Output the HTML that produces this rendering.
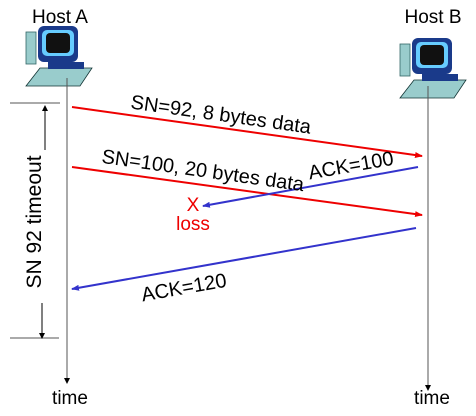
<!DOCTYPE html>
<html><head><style>body{margin:0;background:#fff}svg{display:block}text{font-family:"Liberation Sans",Arial,sans-serif}</style></head>
<body>
<svg width="476" height="416" viewBox="0 0 476 416" xmlns="http://www.w3.org/2000/svg">
<defs>
<marker id="ar" markerWidth="8" markerHeight="6" refX="7" refY="3" orient="auto" markerUnits="userSpaceOnUse"><path d="M0,0 L8,3 L0,6 Z" fill="#e00"/></marker>
<marker id="ab" markerWidth="8" markerHeight="6" refX="7" refY="3" orient="auto" markerUnits="userSpaceOnUse"><path d="M0,0 L8,3 L0,6 Z" fill="#33c"/></marker>
<marker id="ak" markerWidth="6" markerHeight="6" refX="5" refY="3" orient="auto" markerUnits="userSpaceOnUse"><path d="M0,0 L6,3 L0,6 Z" fill="#000"/></marker>
<g id="pc">
<rect x="0" y="4" width="10" height="32" fill="#9cc" stroke="#366" stroke-width="0.8"/>
<rect x="12" y="-2" width="40" height="36" rx="6" fill="#1a3a8a"/>
<rect x="16" y="2" width="32" height="26" rx="5" fill="#6cf"/>
<rect x="20" y="5" width="24" height="20" rx="4" fill="#111"/>
<polygon points="0,58 14,40 66,40 54,58" fill="#9cc" stroke="#133" stroke-width="0.8"/>
<rect x="22" y="34" width="36" height="7" fill="#1a3a8a"/>
</g>
</defs>
<text x="60" y="23" font-size="19" text-anchor="middle">Host A</text>
<text x="433" y="23" font-size="19" text-anchor="middle">Host B</text>
<use href="#pc" x="26" y="28"/>
<use href="#pc" x="400" y="40"/>
<line x1="67" y1="78" x2="67" y2="383" stroke="#555" stroke-width="1" marker-end="url(#ak)"/>
<line x1="428" y1="86" x2="428" y2="390" stroke="#555" stroke-width="1" marker-end="url(#ak)"/>
<line x1="10" y1="103" x2="60" y2="103" stroke="#555"/>
<line x1="10" y1="338" x2="59" y2="338" stroke="#555"/>
<line x1="45" y1="150" x2="45" y2="106" stroke="#000" marker-end="url(#ak)"/>
<line x1="42" y1="303" x2="42" y2="338" stroke="#000" marker-end="url(#ak)"/>
<text transform="translate(41,222) rotate(-90)" font-size="21" text-anchor="middle">SN 92 timeout</text>
<line x1="72" y1="107" x2="422" y2="156" stroke="#e00" stroke-width="2" marker-end="url(#ar)"/>
<line x1="72" y1="167" x2="422" y2="215" stroke="#e00" stroke-width="2" marker-end="url(#ar)"/>
<line x1="418" y1="167" x2="203" y2="206" stroke="#33c" stroke-width="2" marker-end="url(#ab)"/>
<line x1="416" y1="228" x2="72" y2="289" stroke="#33c" stroke-width="2" marker-end="url(#ab)"/>
<text transform="translate(220,121) rotate(8)" font-size="20" text-anchor="middle">SN=92, 8 bytes data</text>
<text transform="translate(202,177) rotate(8)" font-size="20" text-anchor="middle">SN=100, 20 bytes data</text>
<text transform="translate(352,172) rotate(-10)" font-size="20" text-anchor="middle">ACK=100</text>
<text transform="translate(185,294) rotate(-10)" font-size="20" text-anchor="middle">ACK=120</text>
<text x="193" y="211" font-size="19" fill="#e00" text-anchor="middle">X</text>
<text x="193" y="230" font-size="19" fill="#e00" text-anchor="middle">loss</text>
<text x="70" y="404" font-size="19" text-anchor="middle">time</text>
<text x="432" y="404" font-size="19" text-anchor="middle">time</text>
</svg>
</body></html>
